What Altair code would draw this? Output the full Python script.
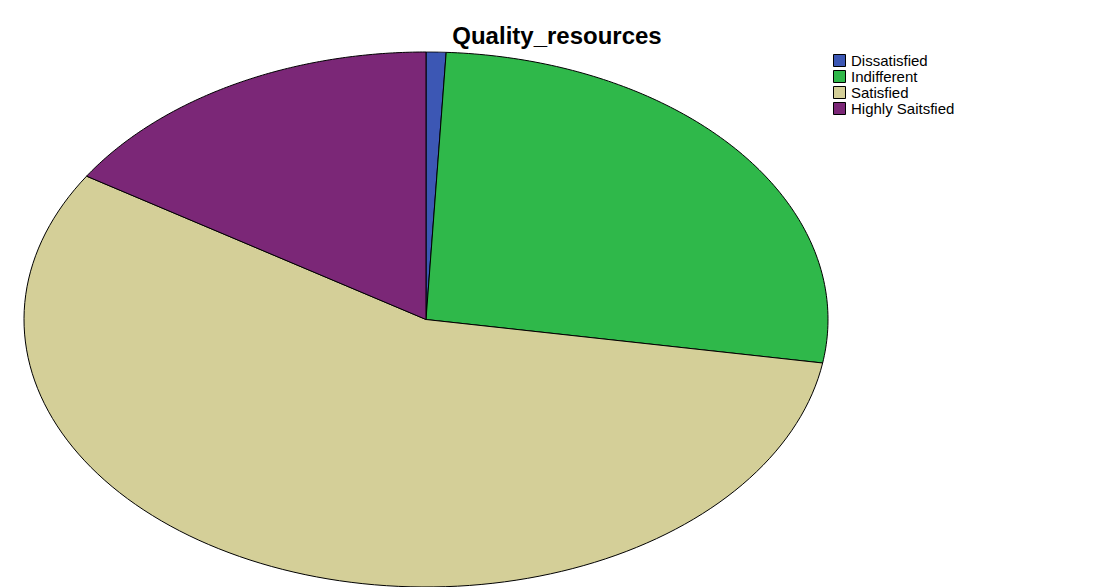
import altair as alt
import pandas as pd

categories = ["Dissatisfied", "Indifferent", "Satisfied", "Highly Saitsfied"]
values = [0.8, 26.8, 56.4, 16.0]
colors = ["#3c57b4", "#2fb84a", "#d4cf98", "#7b2777"]
order = [0, 1, 2, 3]

df = pd.DataFrame({"category": categories, "value": values, "ord": order})

N = 120

chart = (
    alt.Chart(df)
    .transform_joinaggregate(total="sum(value)")
    .transform_window(cum="sum(value)", sort=[alt.SortField("ord")])
    .transform_calculate(steps=f"sequence(-1, {N + 2})")
    .transform_flatten(["steps"])
    .transform_calculate(
        t0="2*PI*(datum.cum - datum.value)/datum.total",
        t1="2*PI*datum.cum/datum.total",
    )
    .transform_calculate(ang=f"datum.t0 + (datum.t1 - datum.t0)*datum.steps/{N}")
    .transform_calculate(
        px=f"(datum.steps < 0 || datum.steps > {N}) ? 0 : sin(datum.ang)",
        py=f"(datum.steps < 0 || datum.steps > {N}) ? 0 : cos(datum.ang)",
    )
    .mark_line(stroke="#000000", strokeWidth=1, strokeJoin="round", interpolate="linear")
    .encode(
        x=alt.X("px:Q", scale=alt.Scale(domain=[-1, 1], nice=False, zero=False), axis=None),
        y=alt.Y("py:Q", scale=alt.Scale(domain=[-1, 1], nice=False, zero=False), axis=None),
        order=alt.Order("steps:Q"),
        detail="category:N",
        fill=alt.Fill(
            "category:N",
            scale=alt.Scale(domain=categories, range=colors),
            sort=categories,
            legend=alt.Legend(
                title=None,
                orient="none",
                legendX=808,
                legendY=1,
                symbolType="square",
                symbolSize=144,
                symbolStrokeColor="#000000",
                symbolStrokeWidth=1,
                symbolOpacity=1,
                labelFont="Liberation Sans",
                labelFontSize=15,
                labelColor="#000000",
                rowPadding=-2,
                labelOffset=4,
            ),
        ),
    )
    .properties(
        width=804,
        height=535,
        title=alt.TitleParams(
            "Quality_resources",
            font="Liberation Sans",
            fontSize=24,
            fontWeight="bold",
            color="#000000",
            anchor="middle",
            frame="group",
            dx=131,
            offset=3,
        ),
        autosize=alt.AutoSizeParams(type="none"),
        padding={"left": 16, "top": 44, "right": 250, "bottom": 0},
    )
    .configure_view(stroke=None)
)

chart.save("out.html", embed_options={"renderer": "svg", "actions": False})
